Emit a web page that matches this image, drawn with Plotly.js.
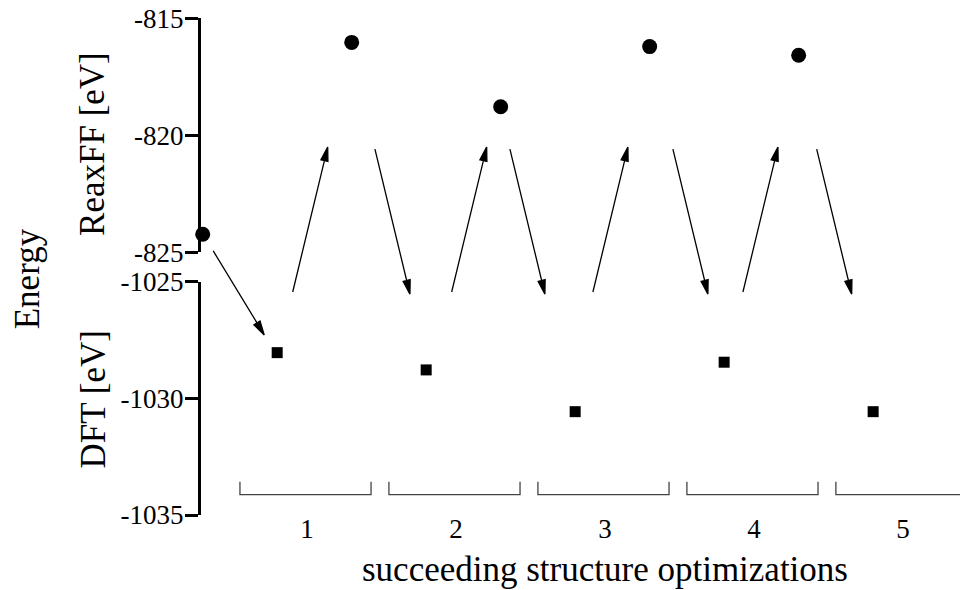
<!DOCTYPE html>
<html><head><meta charset="utf-8">
<script src="https://cdn.plot.ly/plotly-3.0.1.min.js"></script>
<style>body{margin:0;background:#fff}#chart{width:960px;height:590px}</style>
</head><body><div id="chart"></div>
<script>
// ---- data ----
const categories = [1, 2, 3, 4, 5];
const categoryLabels = ['1', '2', '3', '4', '5'];
const reaxffX = [0.3, 1.3, 2.3, 3.3, 4.3];
const reaxffEnergy = [-824.23, -816.03, -818.78, -816.21, -816.58];
const dftX = [0.8, 1.8, 2.8, 3.8, 4.8];
const dftEnergy = [-1028.04, -1028.78, -1030.57, -1028.45, -1030.57];
const reaxffTicks = [-825, -820, -815];
const reaxffTickText = ['-825', '-820', '-815'];
const dftTicks = [-1035, -1030, -1025];
const dftTickText = ['-1035', '-1030', '-1025'];

// arrows: head location (x, energy on given axis)
const arrowHeadX = [0.713, 1.139, 1.691, 2.206, 2.597, 3.154, 3.691, 4.161, 4.656];
const arrowHeadE = [-1027.28, -820.5, -1025.53, -820.5, -1025.53, -820.5, -1025.53, -820.5, -1025.53];
const arrowAxis  = ['dft', 'reaxff', 'dft', 'reaxff', 'dft', 'reaxff', 'dft', 'reaxff', 'dft'];

// ---- layout constants ----
const FONT = 'Liberation Serif, Times New Roman, serif';
const domReax = [0.5724, 0.9690], rngReax = [-825, -815];
const domDft = [0.1271, 0.5225], rngDft = [-1035, -1025];
const xRange = [0.2886, 5.383];

function toPaperY(v, axis) {
  const d = axis === 'dft' ? domDft : domReax;
  const r = axis === 'dft' ? rngDft : rngReax;
  return d[0] + (v - r[0]) / (r[1] - r[0]) * (d[1] - d[0]);
}

const shapes = [];
// arrows
const tailOffsets = {first: [-51, -84], up: [-35, 145], down: [-35, -145]};
arrowHeadX.forEach((hx, i) => {
  let off;
  if (i === 0) off = tailOffsets.first;
  else off = arrowAxis[i] === 'reaxff' ? tailOffsets.up : tailOffsets.down;
  const dx = -off[0], dy = -off[1];          // direction tail->head (screen)
  const len = Math.hypot(dx, dy);
  const ux = dx / len, uy = dy / len;
  const hl = 14, hw = 3.6;
  const bx = -hl * ux, by = -hl * uy;          // base center (screen)
  const nx = -uy, ny = ux;
  const p = (sx, sy) => `${sx.toFixed(2)},${(-sy).toFixed(2)}`;
  const path = `M${p(off[0], off[1])}L${p(bx, by)}` +
               `M0,0L${p(bx + hw * nx, by + hw * ny)}L${p(bx - hw * nx, by - hw * ny)}Z`;
  shapes.push({
    type: 'path', xref: 'x', yref: 'paper',
    xsizemode: 'pixel', ysizemode: 'pixel',
    xanchor: hx, yanchor: toPaperY(arrowHeadE[i], arrowAxis[i]),
    path: path, fillcolor: '#000', line: {color: '#000', width: 1.3}, layer: 'above'
  });
});
// brackets
const brTop = 0.1836, brBot = 0.1615;
categories.forEach(c => {
  const x0 = c - 0.45, x1 = c + 0.43;
  shapes.push({
    type: 'path', xref: 'x', yref: 'paper',
    path: `M${x0},${brTop}L${x0},${brBot}L${x1},${brBot}L${x1},${brTop}`,
    line: {color: '#444', width: 1.3}, layer: 'above'
  });
});

const traces = [
  {x: reaxffX, y: reaxffEnergy, xaxis: 'x', yaxis: 'y2', type: 'scatter', mode: 'markers',
   marker: {symbol: 'circle', size: 15, color: '#000'}, cliponaxis: false, hoverinfo: 'skip'},
  {x: dftX, y: dftEnergy, xaxis: 'x', yaxis: 'y', type: 'scatter', mode: 'markers',
   marker: {symbol: 'square', size: 11, color: '#000'}, cliponaxis: false, hoverinfo: 'skip'}
];

const yCommon = {
  showline: true, linecolor: '#000', linewidth: 3,
  ticks: 'outside', ticklen: 13, tickwidth: 3, tickcolor: '#000',
  showgrid: false, zeroline: false, anchor: 'x', automargin: false,
  ticklabelstandoff: -4,
  tickfont: {family: FONT, size: 27, color: '#000'}, fixedrange: true
};

const layout = {
  width: 960, height: 590,
  margin: {l: 201, r: 0, t: 0, b: 0},
  paper_bgcolor: '#fff', plot_bgcolor: '#fff',
  showlegend: false,
  font: {family: FONT, color: '#000'},
  xaxis: {
    domain: [0, 1], range: xRange, anchor: 'y',
    tickvals: categories, ticktext: categoryLabels,
    showline: false, ticks: '', showgrid: false, zeroline: false,
    ticklabelstandoff: -5,
    tickfont: {family: FONT, size: 27, color: '#000'}, automargin: false, fixedrange: true
  },
  yaxis: Object.assign({}, yCommon, {domain: domDft, range: rngDft, tickvals: dftTicks, ticktext: dftTickText}),
  yaxis2: Object.assign({}, yCommon, {domain: domReax, range: rngReax, tickvals: reaxffTicks, ticktext: reaxffTickText}),
  shapes: shapes,
  annotations: [
    {text: 'ReaxFF [eV]', textangle: -90, xref: 'paper', yref: 'paper', x: -0.1423, y: 0.756,
     showarrow: false, font: {family: FONT, size: 35, color: '#000'}, xanchor: 'center', yanchor: 'middle'},
    {text: 'DFT [eV]', textangle: -90, xref: 'paper', yref: 'paper', x: -0.1423, y: 0.323,
     showarrow: false, font: {family: FONT, size: 35, color: '#000'}, xanchor: 'center', yanchor: 'middle'},
    {text: 'Energy', textangle: -90, xref: 'paper', yref: 'paper', x: -0.229, y: 0.527,
     showarrow: false, font: {family: FONT, size: 35, color: '#000'}, xanchor: 'center', yanchor: 'middle'},
    {text: 'succeeding structure optimizations', xref: 'paper', yref: 'paper', x: 0.532, y: 0.035,
     showarrow: false, font: {family: FONT, size: 35, color: '#000'}, xanchor: 'center', yanchor: 'middle'}
  ]
};

Plotly.newPlot('chart', traces, layout, {staticPlot: true, displayModeBar: false});
</script>
</body></html>
